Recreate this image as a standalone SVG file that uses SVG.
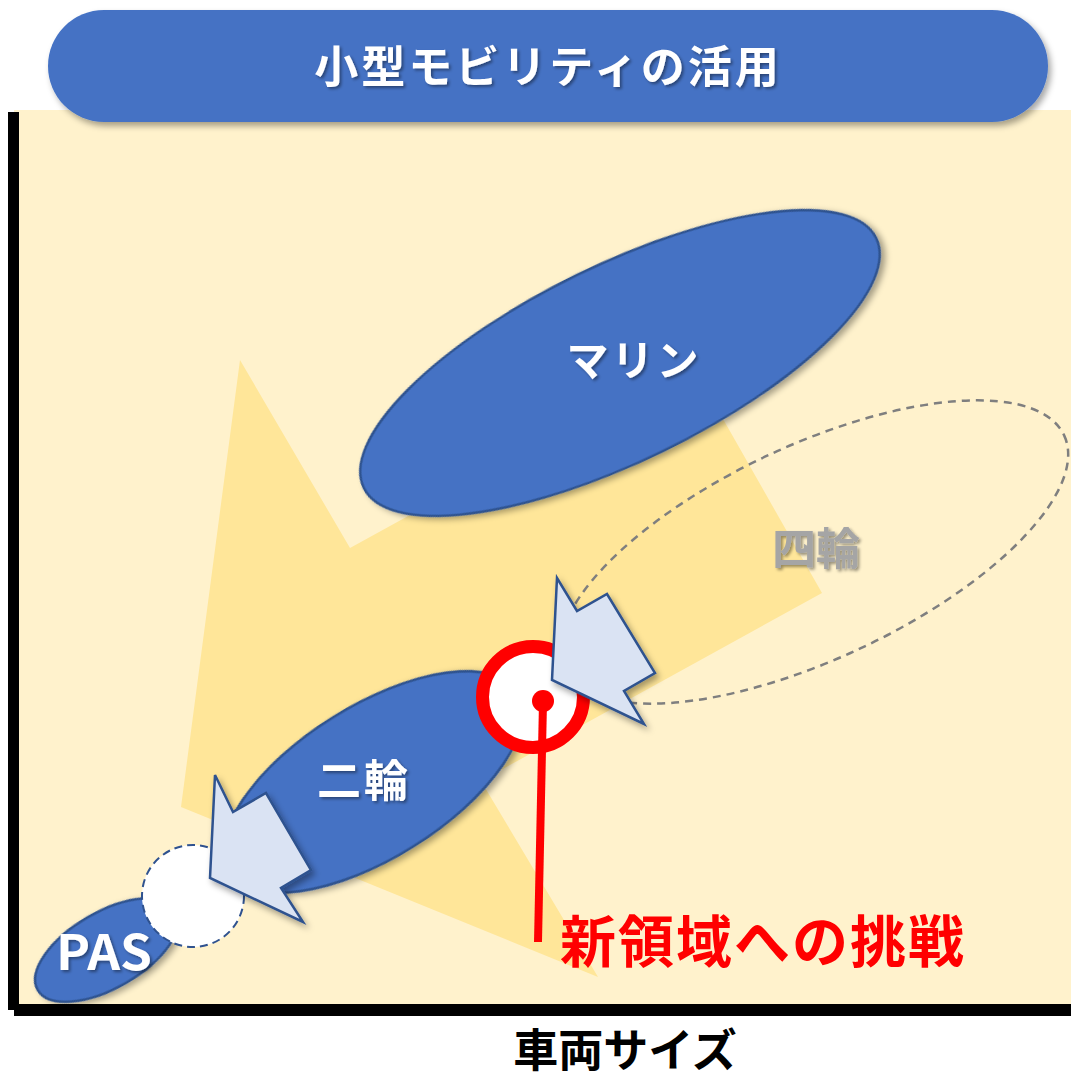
<svg xmlns="http://www.w3.org/2000/svg" width="1071" height="1078" viewBox="0 0 1071 1078">
<defs>
<style>
.blue{fill:#4472C4;stroke:#2F528F;stroke-width:2.5}
.arrow{fill:#DAE3F3;stroke:#2F528F;stroke-width:2.5;stroke-linejoin:miter}
.lbl{font-family:"Noto Sans CJK JP","Noto Sans",sans-serif;font-weight:bold}
.wt{fill:#FFFFFF}
</style>
<filter id="sh" x="-20%" y="-20%" width="140%" height="140%">
<feDropShadow dx="3" dy="4" stdDeviation="3" flood-color="#000" flood-opacity="0.35"/>
</filter>
<filter id="tsh" x="-20%" y="-20%" width="140%" height="140%">
<feDropShadow dx="2" dy="2" stdDeviation="1.5" flood-color="#000" flood-opacity="0.4"/>
</filter>
</defs>
<rect x="0" y="0" width="1071" height="1078" fill="#FFFFFF"/>
<g id="background">
<rect x="14" y="110" width="1057" height="896" fill="#FFF2CC"/>
<polygon points="240,360 350,548 690,361 822,593 481,781 598,977 181,807" fill="#FFE699"/>
</g>
<g id="axes">
<rect x="8" y="112" width="11" height="898" fill="#000"/>
<rect x="14" y="1004" width="1057" height="12" fill="#000"/>
</g>
<g id="title">
<rect x="48" y="10" width="1000" height="112" rx="56" ry="56" fill="#4472C4" filter="url(#sh)"/>
<text x="548" y="83" text-anchor="middle" font-size="44" letter-spacing="3" class="lbl wt" filter="url(#tsh)">小型モビリティの活用</text>
</g>
<g id="yonrin">
<ellipse cx="814" cy="552" rx="276" ry="107" transform="rotate(-25 814 552)" fill="none" stroke="#7F7F7F" stroke-width="2.5" stroke-dasharray="8 6"/>
<text x="816" y="565" text-anchor="middle" font-size="44" class="lbl" fill="#A5A5A5" filter="url(#tsh)">四輪</text>
</g>
<g id="marine">
<ellipse cx="620" cy="363" rx="285" ry="98" transform="rotate(-26 620 363)" class="blue" filter="url(#sh)"/>
<text x="634" y="376" text-anchor="middle" font-size="42" letter-spacing="3" class="lbl wt" filter="url(#tsh)">マリン</text>
</g>
<g id="nirin">
<ellipse cx="373" cy="782" rx="170" ry="76" transform="rotate(-32 373 782)" class="blue" filter="url(#sh)"/>
<text x="364" y="797" text-anchor="middle" font-size="44" letter-spacing="3" class="lbl wt" filter="url(#tsh)">二輪</text>
</g>
<g id="pas">
<ellipse cx="107" cy="950" rx="80" ry="38" transform="rotate(-30 107 950)" class="blue" filter="url(#sh)"/>
</g>
<g id="placeholder">
<circle cx="193" cy="896" r="51" fill="#FFFFFF" stroke="#2F528F" stroke-width="2" stroke-dasharray="8 5"/>
</g>
<g id="pas-label">
<text x="56" y="970" font-size="48" textLength="96" lengthAdjust="spacingAndGlyphs" class="lbl wt" filter="url(#tsh)">PAS</text>
</g>
<g id="target">
<circle cx="533" cy="697" r="50.5" fill="#FFFFFF" stroke="#FF0000" stroke-width="13"/>
</g>
<g id="connectors">
<polygon class="arrow" filter="url(#sh)" points="557,578 577,611 607,594 655,673 624,691 644,724 552,680"/>
<polygon class="arrow" filter="url(#sh)" points="215,775 233,812 266,793 311,870 281,888 303,922 210,878"/>
<line x1="543" y1="702" x2="538" y2="942" stroke="#FF0000" stroke-width="8"/>
<circle cx="543" cy="701" r="11" fill="#FF0000"/>
</g>
<g id="challenge">
<text x="560" y="962" font-size="56" letter-spacing="2" class="lbl" fill="#FF0000">新領域への挑戦</text>
</g>
<g id="xaxis-label">
<text x="625" y="1067" text-anchor="middle" font-size="45" class="lbl" fill="#000">車両サイズ</text>
</g>
</svg>
